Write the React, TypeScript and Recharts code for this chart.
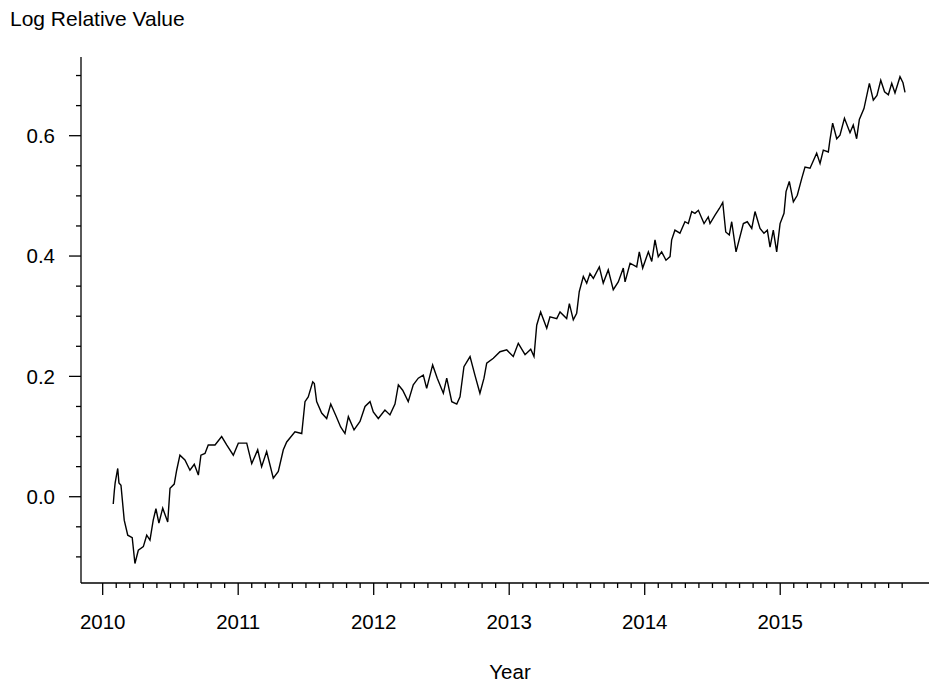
import React from 'react';
import { LineChart, Line, XAxis, YAxis } from 'recharts';

const years: number[] = [
  2010.078, 2010.086, 2010.092, 2010.111, 2010.120, 2010.135, 2010.159, 2010.185, 2010.218, 2010.238,
  2010.263, 2010.300, 2010.325, 2010.349, 2010.373, 2010.393, 2010.415, 2010.443, 2010.480, 2010.497,
  2010.528, 2010.546, 2010.570, 2010.607, 2010.644, 2010.676, 2010.706, 2010.725, 2010.755, 2010.779,
  2010.829, 2010.878, 2010.915, 2010.964, 2011.001, 2011.063, 2011.100, 2011.144, 2011.173, 2011.210,
  2011.259, 2011.296, 2011.333, 2011.358, 2011.419, 2011.469, 2011.493, 2011.517, 2011.550, 2011.562,
  2011.579, 2011.616, 2011.653, 2011.683, 2011.722, 2011.756, 2011.788, 2011.813, 2011.855, 2011.899,
  2011.936, 2011.973, 2011.997, 2012.034, 2012.083, 2012.120, 2012.157, 2012.182, 2012.214, 2012.255,
  2012.292, 2012.329, 2012.366, 2012.391, 2012.435, 2012.469, 2012.514, 2012.539, 2012.576, 2012.613,
  2012.637, 2012.666, 2012.711, 2012.747, 2012.784, 2012.814, 2012.834, 2012.883, 2012.932, 2012.982,
  2013.030, 2013.067, 2013.117, 2013.159, 2013.183, 2013.203, 2013.232, 2013.277, 2013.301, 2013.351,
  2013.375, 2013.424, 2013.444, 2013.473, 2013.498, 2013.517, 2013.547, 2013.572, 2013.596, 2013.621,
  2013.665, 2013.694, 2013.731, 2013.768, 2013.805, 2013.842, 2013.855, 2013.892, 2013.941, 2013.960,
  2013.985, 2014.027, 2014.052, 2014.076, 2014.100, 2014.125, 2014.157, 2014.187, 2014.199, 2014.223,
  2014.260, 2014.297, 2014.322, 2014.347, 2014.371, 2014.396, 2014.438, 2014.469, 2014.482, 2014.519,
  2014.551, 2014.576, 2014.598, 2014.624, 2014.642, 2014.674, 2014.728, 2014.757, 2014.790, 2014.814,
  2014.851, 2014.880, 2014.905, 2014.925, 2014.949, 2014.974, 2014.999, 2015.028, 2015.043, 2015.067,
  2015.097, 2015.126, 2015.159, 2015.183, 2015.220, 2015.269, 2015.294, 2015.318, 2015.355, 2015.367,
  2015.387, 2015.417, 2015.441, 2015.474, 2015.515, 2015.539, 2015.564, 2015.584, 2015.618, 2015.658,
  2015.687, 2015.714, 2015.742, 2015.770, 2015.798, 2015.823, 2015.847, 2015.884, 2015.906, 2015.921,
];

const logRelativeValue: number[] = [
  -0.012, 0.010, 0.023, 0.047, 0.023, 0.019, -0.039, -0.064, -0.068, -0.111,
  -0.089, -0.083, -0.064, -0.072, -0.039, -0.020, -0.044, -0.019, -0.042, 0.014,
  0.021, 0.044, 0.069, 0.061, 0.044, 0.054, 0.036, 0.069, 0.072, 0.086,
  0.086, 0.100, 0.086, 0.069, 0.089, 0.089, 0.055, 0.078, 0.050, 0.075,
  0.031, 0.042, 0.078, 0.091, 0.108, 0.105, 0.158, 0.166, 0.191, 0.188,
  0.158, 0.139, 0.130, 0.154, 0.134, 0.116, 0.105, 0.133, 0.111, 0.125,
  0.150, 0.158, 0.141, 0.130, 0.144, 0.136, 0.154, 0.186, 0.177, 0.158,
  0.186, 0.197, 0.202, 0.180, 0.219, 0.197, 0.172, 0.197, 0.158, 0.154,
  0.166, 0.216, 0.233, 0.202, 0.172, 0.197, 0.222, 0.230, 0.241, 0.244,
  0.233, 0.255, 0.236, 0.245, 0.233, 0.285, 0.307, 0.280, 0.299, 0.296,
  0.307, 0.296, 0.321, 0.294, 0.305, 0.341, 0.366, 0.355, 0.371, 0.363,
  0.382, 0.355, 0.377, 0.344, 0.357, 0.380, 0.357, 0.388, 0.382, 0.407,
  0.380, 0.407, 0.391, 0.427, 0.399, 0.407, 0.393, 0.399, 0.427, 0.443,
  0.438, 0.457, 0.454, 0.474, 0.471, 0.476, 0.454, 0.465, 0.454, 0.468,
  0.479, 0.489, 0.440, 0.435, 0.457, 0.407, 0.454, 0.457, 0.446, 0.474,
  0.446, 0.438, 0.443, 0.415, 0.443, 0.407, 0.454, 0.471, 0.507, 0.524,
  0.490, 0.501, 0.529, 0.548, 0.546, 0.571, 0.554, 0.576, 0.573, 0.593,
  0.621, 0.595, 0.601, 0.629, 0.605, 0.618, 0.595, 0.627, 0.645, 0.687,
  0.659, 0.667, 0.692, 0.673, 0.668, 0.687, 0.671, 0.698, 0.688, 0.672,
];

const majorYears: number[] = [2010, 2011, 2012, 2013, 2014, 2015];
const xTickValues: number[] = [];
for (let i = 0; i < 60; i++) xTickValues.push(Math.round((2010 + i / 10) * 10) / 10);

const yMajorTicks: number[] = [0, 0.2, 0.4, 0.6];
const yTickValues: number[] = [];
for (let i = -2; i <= 14; i++) yTickValues.push(Math.round(i * 5) / 100);

const data = years.map((t, i) => ({ t, v: logRelativeValue[i] }));

const FONT = '"Liberation Sans", Arial, Helvetica, sans-serif';

const XTick = (props: any) => {
  const { x, y, payload } = props;
  const val = payload.value as number;
  const isMajor = majorYears.some((m) => Math.abs(m - val) < 1e-6);
  return (
    <g>
      <line x1={x} x2={x} y1={y} y2={y + (isMajor ? 12 : 5)} stroke="#000" strokeWidth={1.3} />
      {isMajor && (
        <text x={x} y={y + 46} textAnchor="middle" fontSize={20.5} fontFamily={FONT} fill="#000">
          {Math.round(val)}
        </text>
      )}
    </g>
  );
};

const YTick = (props: any) => {
  const { x, y, payload } = props;
  const val = payload.value as number;
  const isMajor = yMajorTicks.some((m) => Math.abs(m - val) < 1e-6);
  return (
    <g>
      <line x1={x - (isMajor ? 12 : 5)} x2={x} y1={y} y2={y} stroke="#000" strokeWidth={1.3} />
      {isMajor && (
        <text x={x - 26} y={y} dy="0.36em" textAnchor="end" fontSize={20.5} fontFamily={FONT} fill="#000">
          {val.toFixed(1)}
        </text>
      )}
    </g>
  );
};

export default function App() {
  return (
    <div style={{ position: 'absolute', left: 0, top: 0, width: 929, height: 684, background: '#fff' }}>
      <LineChart width={929} height={684} data={data} margin={{ top: 57, right: 0, bottom: 0, left: 0 }}>
        <XAxis
          dataKey="t"
          type="number"
          domain={[2009.84, 2016.098]}
          allowDataOverflow
          ticks={xTickValues}
          interval={0}
          tick={<XTick />}
          tickLine={false}
          tickSize={0}
          tickMargin={0}
          height={101}
          axisLine={{ stroke: '#000', strokeWidth: 1.3 }}
        />
        <YAxis
          type="number"
          domain={[-0.1434, 0.7308]}
          allowDataOverflow
          ticks={yTickValues}
          interval={0}
          tick={<YTick />}
          tickLine={false}
          tickSize={0}
          tickMargin={0}
          width={81}
          axisLine={{ stroke: '#000', strokeWidth: 1.3 }}
        />
        <Line
          type="linear"
          dataKey="v"
          stroke="#000"
          strokeWidth={1.4}
          dot={false}
          isAnimationActive={false}
        />
      </LineChart>
      <svg width={929} height={684} style={{ position: 'absolute', left: 0, top: 0, pointerEvents: 'none' }}>
        <text x={10} y={26} fontSize={21} fontFamily={FONT} fill="#000">
          Log Relative Value
        </text>
        <text x={510} y={679} textAnchor="middle" fontSize={20.5} fontFamily={FONT} fill="#000">
          Year
        </text>
      </svg>
    </div>
  );
}
